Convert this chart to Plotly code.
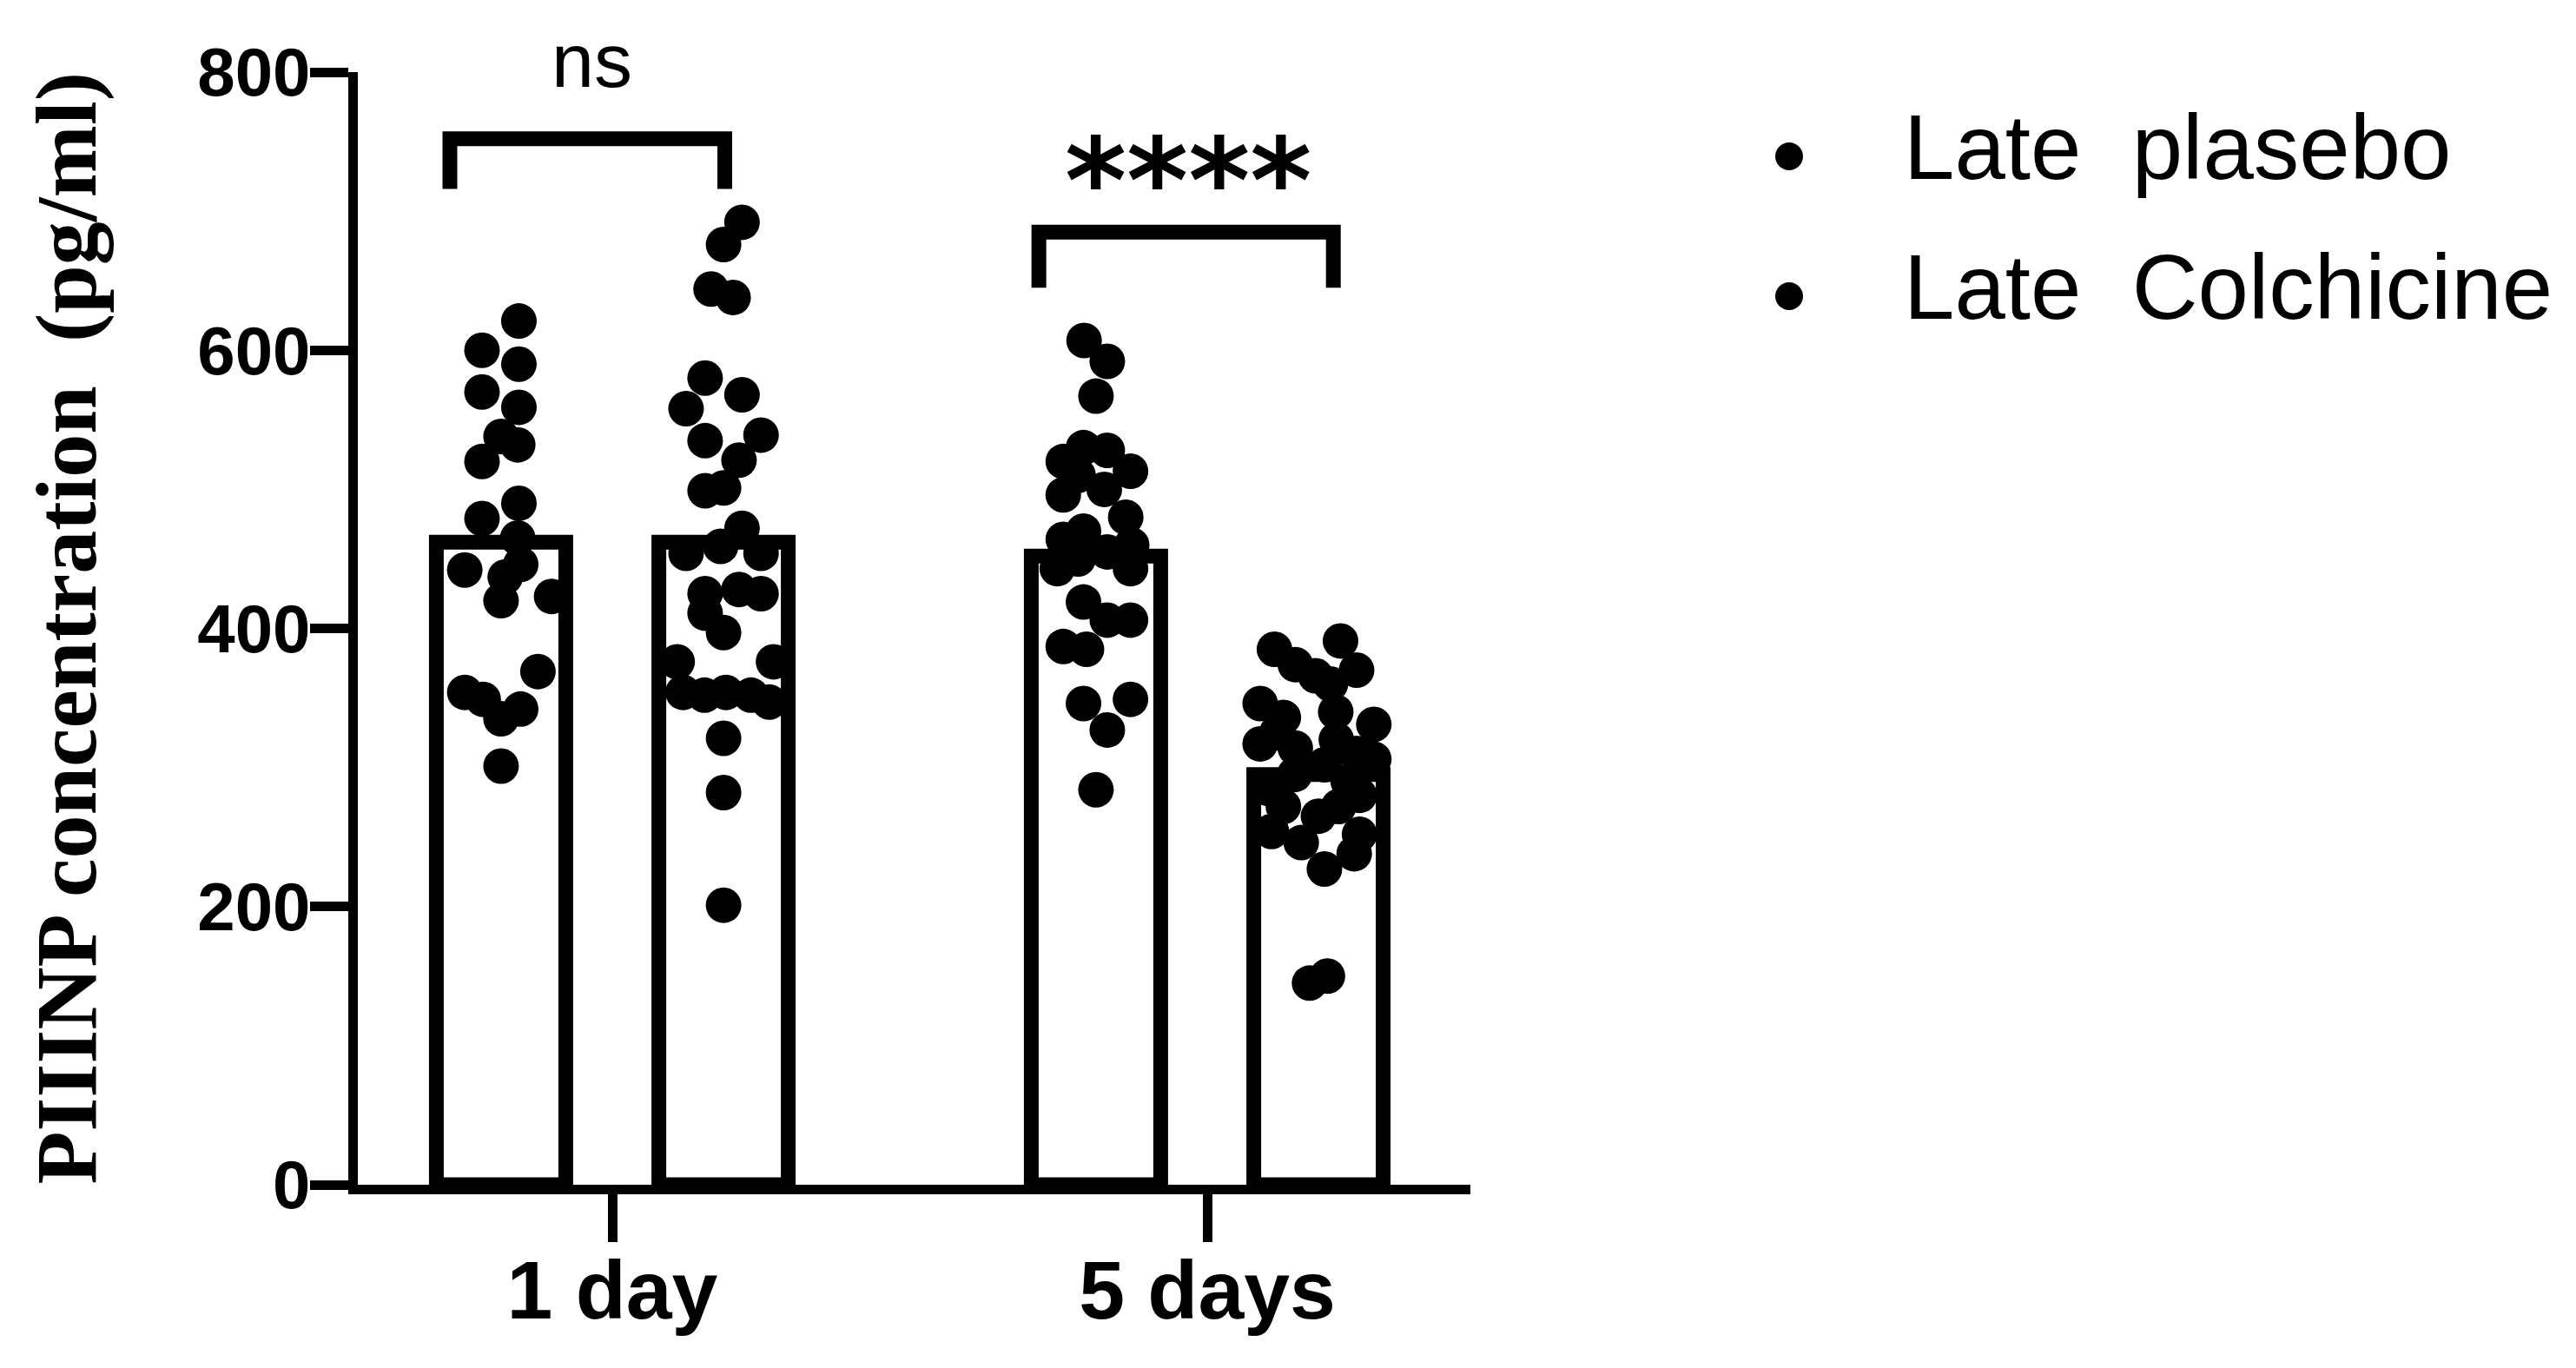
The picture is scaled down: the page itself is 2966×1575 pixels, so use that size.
import plotly.graph_objects as go

# ---------------- data ----------------
categories = ["1 day", "5 days"]
series_names = ["Late  plasebo", "Late  Colchicine"]

bar_plasebo = [462, 452]
bar_colchicine = [462, 295]

# individual points, 1 day
plasebo_1d = [621, 600, 590, 570, 559, 538, 532, 520, 490, 479, 465, 446, 442, 437,
              423, 420, 369, 354, 349, 342, 335, 301]
plasebo_1d_jitter = [0.030, -0.032, 0.030, -0.032, 0.030, 0.0, 0.028, -0.032, 0.030, -0.032,
                     0.028, 0.033, -0.061, 0.007, 0.085, 0.0, 0.062, -0.061, -0.030, 0.033,
                     0.0, 0.0]
colch_1d = [692, 676, 644, 638, 580, 568, 558, 539, 535, 521, 501, 499, 472, 459, 454,
            454, 428, 425, 425, 411, 397, 376, 376, 354, 352, 354, 352, 347, 321, 282, 201]
colch_1d_jitter = [0.031, 0.0, -0.021, 0.016, -0.031, 0.031, -0.063, 0.063, -0.031, 0.026,
                   0.0, -0.031, 0.031, -0.005, -0.063, 0.063, 0.026, -0.031, 0.063, -0.031,
                   0.0, -0.078, 0.084, -0.068, -0.032, 0.004, 0.046, 0.077, 0.0, 0.0, 0.0]

# individual points, 5 days
plasebo_5d = [607, 592, 567, 520, 530, 528, 513, 496, 500, 464, 470, 455, 443, 443,
              419, 406, 406, 387, 385, 346, 349, 327, 284, 480, 450, 510, 460]
plasebo_5d_jitter = [-0.020, 0.019, 0.0, -0.055, -0.021, 0.019, 0.058, -0.055, 0.014, -0.055,
                     -0.021, 0.019, -0.065, 0.058, -0.021, 0.019, 0.058, -0.055, -0.016,
                     -0.021, 0.058, 0.019, 0.0, 0.050, -0.030, -0.030, 0.060]
colch_5d = [391, 385, 374, 370, 366, 346, 336, 340, 331, 317, 314, 310, 306, 302,
            272, 272, 280, 254, 246, 252, 227, 145, 150, 360, 325, 295, 290, 265, 238,
            285, 320]
colch_5d_jitter = [0.037, -0.074, -0.039, 0.064, -0.005, -0.098, -0.059, 0.029, 0.093, -0.098,
                   -0.039, 0.064, 0.093, 0.010, -0.059, 0.034, 0.069, -0.079, -0.029, 0.069,
                   0.010, -0.015, 0.015, 0.020, -0.070, -0.040, 0.050, 0.0, 0.060,
                   -0.085, 0.030]

y_ticks = [0, 200, 400, 600, 800]
y_title = "PIIINP concentration  (pg/ml)"
sig_labels = ["ns", "****"]

# ---------------- layout constants ----------------
W, H = 2966, 1575          # page size
PAGE_OFF = 8               # default body margin of the html page
FW, FH = W - PAGE_OFF, H - PAGE_OFF
PX_L, PX_R, PX_T, PX_B = 412, 1693, 83, 1364   # plot area in page pixels
TICK1_PX, X_UNIT = 705, 685                     # page x of first category, px per category
X_RANGE = [1 - (TICK1_PX - PX_L) / X_UNIT, 1 + (PX_R - TICK1_PX) / X_UNIT]
group_pos = [1, 2]
OFFSET = 0.187
BAR_W = 0.2175
LINE = 17
DOT = 41


def fx(px):
    return (px - PAGE_OFF) / FW


def fy(py):
    return 1 - (py - PAGE_OFF) / FH


fig = go.Figure()

fig.add_trace(go.Bar(
    x=[p - OFFSET for p in group_pos], y=bar_plasebo, width=BAR_W,
    marker=dict(color="white", line=dict(color="black", width=LINE)),
    showlegend=False, name=series_names[0]))
fig.add_trace(go.Bar(
    x=[p + OFFSET for p in group_pos], y=bar_colchicine, width=BAR_W,
    marker=dict(color="white", line=dict(color="black", width=LINE)),
    showlegend=False, name=series_names[1]))


def pts(center, jit):
    return [center + j for j in jit]


fig.add_trace(go.Scatter(
    x=pts(group_pos[0] - OFFSET, plasebo_1d_jitter) + pts(group_pos[1] - OFFSET, plasebo_5d_jitter),
    y=plasebo_1d + plasebo_5d, mode="markers",
    marker=dict(color="black", size=DOT, line=dict(width=0)),
    showlegend=False, name=series_names[0]))
fig.add_trace(go.Scatter(
    x=pts(group_pos[0] + OFFSET, colch_1d_jitter) + pts(group_pos[1] + OFFSET, colch_5d_jitter),
    y=colch_1d + colch_5d, mode="markers",
    marker=dict(color="black", size=DOT, line=dict(width=0)),
    showlegend=False, name=series_names[1]))

# custom legend drawn on a page-pixel-scaled auxiliary axis pair
LEG_X0 = 1780
leg_x_marker = 2060
leg_x_text = 2192
leg_rows = [180, 341]
fig.add_trace(go.Scatter(
    x=[leg_x_marker] * 2, y=leg_rows, mode="markers",
    marker=dict(color="black", size=32), xaxis="x2", yaxis="y2",
    showlegend=False, hoverinfo="skip"))
fig.add_trace(go.Scatter(
    x=[leg_x_text] * 2, y=leg_rows, mode="text",
    text=[s.replace("  ", "\u00a0 ") for s in series_names],
    textposition="middle right",
    textfont=dict(family="Liberation Sans, Arial", size=105, color="black"),
    xaxis="x2", yaxis="y2", showlegend=False, hoverinfo="skip"))

# significance brackets
brackets = [
    dict(x0=group_pos[0] - 0.273, x1=group_pos[0] + 0.189, top=752, leg=716),
    dict(x0=group_pos[1] - 0.283, x1=group_pos[1] + 0.212, top=685, leg=645),
]
for b in brackets:
    fig.add_shape(type="path", xref="x", yref="y",
                  path=f"M {b['x0']},{b['leg']} L {b['x0']},{b['top']} L {b['x1']},{b['top']} L {b['x1']},{b['leg']}",
                  line=dict(color="black", width=LINE))

fig.add_annotation(x=0.965, y=776, xref="x", yref="y", text=sig_labels[0], showarrow=False,
                   yanchor="bottom", font=dict(family="Liberation Sans, Arial", size=88, color="black"))
fig.add_annotation(x=1.968, y=721, xref="x", yref="y", text=sig_labels[1], showarrow=False,
                   yanchor="middle", font=dict(family="DejaVu Sans", size=136, color="black", weight="bold"))

# y-axis title
fig.add_annotation(x=fx(76), y=fy((PX_T + PX_B) / 2), xref="paper", yref="paper",
                   text=y_title, textangle=-90, showarrow=False, xanchor="center", yanchor="middle",
                   font=dict(family="Liberation Serif, Times New Roman", size=100, color="black", weight="bold"))

fig.update_layout(
    width=FW, height=FH, margin=dict(l=0, r=0, t=0, b=0, pad=0, autoexpand=False),
    paper_bgcolor="white", plot_bgcolor="white", barmode="overlay",
    xaxis=dict(domain=[fx(PX_L), fx(PX_R)], range=X_RANGE, automargin=False,
               tickvals=group_pos, ticktext=categories, ticklabelstandoff=-26,
               showline=True, linecolor="black", linewidth=11,
               ticks="outside", ticklen=55, tickwidth=11, tickcolor="black",
               showgrid=False, zeroline=False,
               tickfont=dict(family="Liberation Sans, Arial", size=95, color="black", weight="bold")),
    yaxis=dict(domain=[fy(PX_B), fy(PX_T)], range=[0, 800], automargin=False,
               tickvals=y_ticks, ticklabelstandoff=-16,
               showline=True, linecolor="black", linewidth=11,
               ticks="outside", ticklen=44, tickwidth=11, tickcolor="black",
               showgrid=False, zeroline=False,
               tickfont=dict(family="Liberation Sans, Arial", size=78, color="black", weight="bold")),
    xaxis2=dict(domain=[fx(LEG_X0), 1.0], range=[LEG_X0, W], visible=False, anchor="y2",
                automargin=False),
    yaxis2=dict(domain=[0, 1], range=[H, PAGE_OFF], visible=False, anchor="x2", automargin=False),
)

fig.write_html("out.html")
